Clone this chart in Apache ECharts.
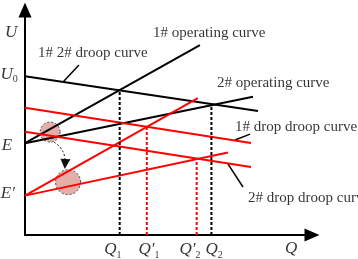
<!DOCTYPE html>
<html>
<head>
<meta charset="utf-8">
<script src="https://cdn.jsdelivr.net/npm/echarts@6/dist/echarts.min.js"></script>
<style>
  html, body { margin: 0; padding: 0; background: #fff; }
  #chart { width: 358px; height: 259px; }
</style>
</head>
<body>
<div id="chart"></div>
<script>
// schematic units: Q along x, U along y
const droopCurve = [[0, 6.82], [7.90, 5.32]]
const op1Curve = [[0, 3.94], [5.93, 8.15]]
const op2Curve = [[0, 3.94], [7.73, 5.94]]
const dropDroop1 = [[0, 5.46], [7.66, 3.95]]
const dropDroop2 = [[0, 4.43], [7.66, 2.92]]
const dropOp1 = [[0, 1.69], [5.86, 5.88]]
const dropOp2 = [[0, 1.69], [6.88, 3.54]]

// operating points [Q, U]
const blackPoints = [[3.21, 6.21], [6.32, 5.62]]
const redPoints = [[4.13, 4.65], [5.82, 3.28]]

// highlighted regions [Q, U, diameter]
const circles = [[0.85, 4.42, 20], [1.46, 2.27, 25]]
const shiftArrow = [[0.98, 3.99], [1.36, 3.05]]

const yTickLabels = [['{v|U}', -0.47, 8.71], ['{v|U}{s|0}', -0.54, 6.91], ['{v|E}', -0.61, 3.86], ["{v|E′}", -0.58, 1.76]]
const xTickLabels = [['{v|Q}{s|1}', 2.98, -0.64], ['{v|Q′}{s|1}', 4.20, -0.64], ['{v|Q′}{s|2}', 5.59, -0.64], ['{v|Q}{s|2}', 6.41, -0.64], ['{v|Q}', 9.02, -0.60]]

const notes = [
  ['1# operating curve', 4.34, 8.67],
  ['1# 2# droop curve', 0.44, 7.81],
  ['2# operating curve', 6.51, 6.52],
  ['1# drop droop curve', 7.12, 4.64],
  ['2# drop droop curve', 7.56, 1.59]
]
const leaders = [
  [[1.83, 7.30], [1.29, 6.57]],
  [[7.12, 4.08], [7.63, 4.33]],
  [[6.88, 3.05], [7.39, 2.06]]
]

const serif = "'Liberation Serif', 'Times New Roman', serif"
const chart = echarts.init(document.getElementById('chart'))

function solid(data, color) {
  return {
    type: 'line', data: data, symbol: 'none', z: 3, silent: true,
    lineStyle: { color: color, width: 2 }
  }
}
function dashed(pt, color) {
  return {
    type: 'line', data: [[pt[0], 0], pt], symbol: 'none', z: 3, silent: true,
    lineStyle: { color: color, width: 2, type: [3, 2] }
  }
}
const axisStyle = {
  show: true,
  onZero: false,
  symbol: ['none', 'triangle'],
  symbolSize: [13, 15],
  lineStyle: { color: '#000', width: 2 }
}
const rich = {
  v: { fontFamily: serif, fontStyle: 'italic', fontSize: 17, color: '#000', lineHeight: 20 },
  s: { fontFamily: serif, fontSize: 10, color: '#000', verticalAlign: 'bottom', lineHeight: 10 }
}

const series = [
  {
    type: 'scatter', z: 1, silent: true,
    data: circles.map(c => [c[0], c[1]]),
    symbolSize: (v, p) => circles[p.dataIndex][2],
    itemStyle: { color: '#e4aea9', borderColor: '#444', borderWidth: 1, borderType: [2, 2], opacity: 1 }
  },
  solid(droopCurve, '#000'),
  solid(op1Curve, '#000'),
  solid(op2Curve, '#000'),
  solid(dropDroop1, '#ff0000'),
  solid(dropDroop2, '#ff0000'),
  solid(dropOp1, '#ff0000'),
  solid(dropOp2, '#ff0000'),
  dashed(blackPoints[0], '#000'),
  dashed(blackPoints[1], '#000'),
  dashed(redPoints[0], '#ff0000'),
  dashed(redPoints[1], '#ff0000'),
  {
    type: 'lines', coordinateSystem: 'cartesian2d', z: 3, silent: true,
    data: [{ coords: shiftArrow }],
    symbol: ['none', 'triangle'],
    symbolSize: [9, 10],
    lineStyle: { color: '#111', width: 1, type: [2, 2], curveness: 0.3, opacity: 1 }
  },
  {
    type: 'lines', coordinateSystem: 'cartesian2d', z: 3, silent: true,
    data: leaders.map(l => ({ coords: l })),
    symbol: 'none',
    lineStyle: { color: '#000', width: 1.5, opacity: 1 }
  },
  {
    type: 'scatter', z: 4, silent: true, clip: false, symbolSize: 0,
    data: notes.map(n => ({ value: [n[1], n[2]], name: n[0] })),
    label: {
      show: true, position: 'right', distance: 0, formatter: '{b}',
      fontFamily: serif, fontSize: 15, color: '#000'
    }
  },
  {
    type: 'scatter', z: 4, silent: true, clip: false, symbolSize: 0,
    data: yTickLabels.concat(xTickLabels).map(n => ({ value: [n[1], n[2]], name: n[0] })),
    label: {
      show: true, position: 'inside', formatter: '{b}', rich: rich
    }
  }
]

chart.setOption({
  animation: false,
  backgroundColor: '#fff',
  grid: { left: 25, right: 46, top: 10, bottom: 24 },
  xAxis: {
    type: 'value', min: 0, max: 9.73,
    axisLine: axisStyle,
    axisTick: { show: false }, axisLabel: { show: false }, splitLine: { show: false }
  },
  yAxis: {
    type: 'value', min: 0, max: 9.66,
    axisLine: axisStyle,
    axisTick: { show: false }, axisLabel: { show: false }, splitLine: { show: false }
  },
  series: series
})
</script>
</body>
</html>
